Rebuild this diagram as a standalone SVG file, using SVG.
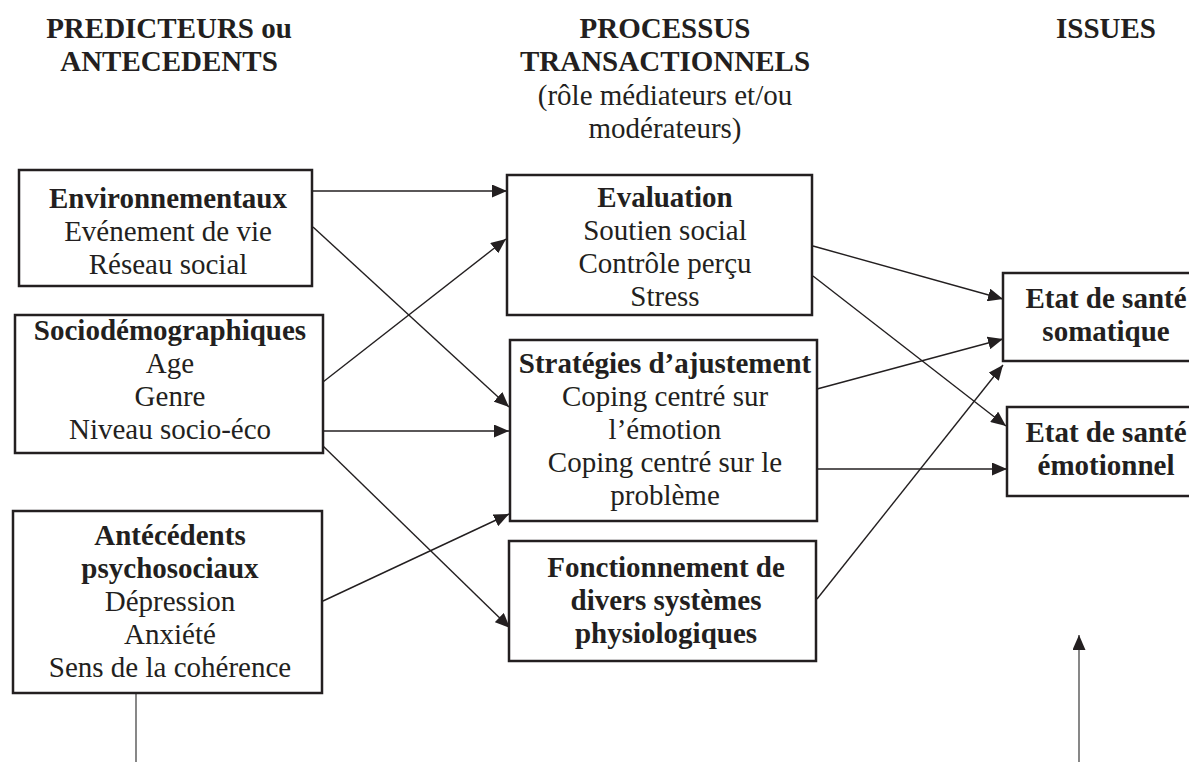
<svg xmlns="http://www.w3.org/2000/svg" width="1189" height="762" viewBox="0 0 1189 762">
<defs>
<marker id="arr" markerUnits="userSpaceOnUse" markerWidth="15" markerHeight="13" viewBox="0 0 15 13" refX="15" refY="6.5" orient="auto">
<path d="M0,0 L15,6.5 L0,13 z" fill="#231f20"/>
</marker>
<style>
text{font-family:"Liberation Serif","Times New Roman",serif;font-size:29px;fill:#231f20;text-anchor:middle}
.b{font-weight:bold}
.box{fill:#fff;stroke:#231f20;stroke-width:2.5}
.c line{stroke:#231f20;stroke-width:1.4;fill:none}
.c .a{marker-end:url(#arr)}
</style>
</defs>
<rect width="1189" height="762" fill="#fff"/>

<g id="headers">
<text class="b" x="169" y="38">PREDICTEURS ou</text>
<text class="b" x="169" y="71">ANTECEDENTS</text>
<text class="b" x="665" y="38">PROCESSUS</text>
<text class="b" x="665" y="71">TRANSACTIONNELS</text>
<text x="665" y="105">(rôle médiateurs et/ou</text>
<text x="665" y="138">modérateurs)</text>
<text class="b" x="1106" y="38">ISSUES</text>
</g>

<g class="c" id="connectors">
<line class="a" x1="313" y1="191" x2="507" y2="191"/>
<line class="a" x1="313" y1="227" x2="509" y2="407"/>
<line class="a" x1="323" y1="382" x2="506" y2="239"/>
<line class="a" x1="323" y1="431" x2="509" y2="431"/>
<line class="a" x1="323" y1="446" x2="510" y2="628"/>
<line class="a" x1="323" y1="601" x2="509" y2="514"/>
<line class="a" x1="813" y1="246" x2="1003" y2="299"/>
<line class="a" x1="813" y1="276" x2="1006" y2="426"/>
<line class="a" x1="817" y1="389" x2="1003" y2="339"/>
<line class="a" x1="817" y1="469" x2="1007" y2="469"/>
<line class="a" x1="817" y1="599" x2="1003" y2="365"/>
<line x1="136" y1="693" x2="136" y2="762" style="stroke:#555"/>
<line class="a" x1="1079" y1="762" x2="1079" y2="635" style="stroke:#555"/>
</g>

<g id="n-env">
<rect class="box" x="19" y="170" width="293" height="116"/>
<text class="b" x="168" y="208">Environnementaux</text>
<text x="168" y="241">Evénement de vie</text>
<text x="168" y="274">Réseau social</text>
</g>

<g id="n-socio">
<rect class="box" x="15" y="315" width="308" height="138"/>
<text class="b" x="170" y="340">Sociodémographiques</text>
<text x="170" y="373">Age</text>
<text x="170" y="406">Genre</text>
<text x="170" y="439">Niveau socio-éco</text>
</g>

<g id="n-ante">
<rect class="box" x="13" y="511" width="309" height="182"/>
<text class="b" x="170" y="545">Antécédents</text>
<text class="b" x="170" y="578">psychosociaux</text>
<text x="170" y="611">Dépression</text>
<text x="170" y="644">Anxiété</text>
<text x="170" y="677">Sens de la cohérence</text>
</g>

<g id="n-eval">
<rect class="box" x="507" y="175" width="305" height="140"/>
<text class="b" x="665" y="207">Evaluation</text>
<text x="665" y="240">Soutien social</text>
<text x="665" y="273">Contrôle perçu</text>
<text x="665" y="306">Stress</text>
</g>

<g id="n-strat">
<rect class="box" x="510" y="340" width="307" height="181"/>
<text class="b" x="665" y="373">Stratégies d’ajustement</text>
<text x="665" y="406">Coping centré sur</text>
<text x="665" y="439">l’émotion</text>
<text x="665" y="472">Coping centré sur le</text>
<text x="665" y="505">problème</text>
</g>

<g id="n-fonct">
<rect class="box" x="509" y="541" width="307" height="120"/>
<text class="b" x="666" y="577">Fonctionnement de</text>
<text class="b" x="666" y="610">divers systèmes</text>
<text class="b" x="666" y="643">physiologiques</text>
</g>

<g id="n-soma">
<rect class="box" x="1003" y="273" width="200" height="88"/>
<text class="b" x="1106" y="308">Etat de santé</text>
<text class="b" x="1106" y="341">somatique</text>
</g>

<g id="n-emo">
<rect class="box" x="1007" y="407" width="200" height="89"/>
<text class="b" x="1106" y="442">Etat de santé</text>
<text class="b" x="1106" y="475">émotionnel</text>
</g>
</svg>
